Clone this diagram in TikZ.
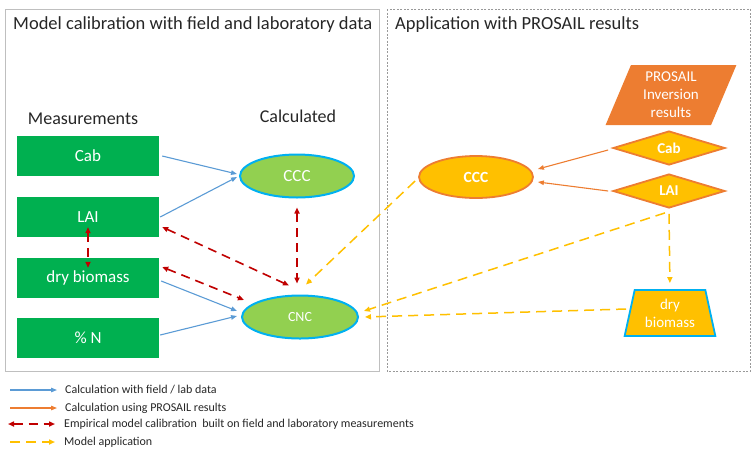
\documentclass[tikz,border=0pt]{standalone}
\usepackage{fontspec}
\setmainfont{Carlito}
\usetikzlibrary{shapes.geometric,arrows.meta}
\definecolor{measgreen}{HTML}{00B050}
\definecolor{calcgreen}{HTML}{92D050}
\definecolor{skyblue}{HTML}{00B0F0}
\definecolor{arrblue}{HTML}{5B9BD5}
\definecolor{orng}{HTML}{ED7D31}
\definecolor{gold}{HTML}{FFC000}
\definecolor{dred}{HTML}{C00000}
\definecolor{frame}{HTML}{BFBFBF}
\definecolor{txt}{HTML}{262626}
\tikzset{
  meas/.style={rectangle, fill=measgreen, text=white, minimum width=142pt, minimum height=40pt, inner sep=0pt, font=\fontsize{17}{20}\selectfont},
  calc/.style={ellipse, fill=calcgreen, draw=skyblue, line width=2pt, text=white, minimum width=114pt, minimum height=43pt, inner sep=0pt},
  appell/.style={ellipse, fill=gold, draw=orng, line width=1.8pt, text=white, minimum width=114pt, minimum height=42pt, inner sep=0pt, font=\bfseries\fontsize{15.5}{18}\selectfont},
  appdia/.style={diamond, aspect=3.3, fill=gold, draw=orng, line width=1.8pt, text=white, minimum width=112pt, minimum height=34pt, inner sep=0pt, font=\bfseries\fontsize{15}{18}\selectfont},
  heading/.style={text=txt, inner sep=0pt, font=\fontsize{18}{22}\selectfont},
  title/.style={text=txt, inner sep=0pt, anchor=west, font=\fontsize{18.5}{22}\selectfont},
  legtxt/.style={text=txt, inner sep=0pt, anchor=west, font=\fontsize{12}{14}\selectfont},
  bluearr/.style={draw=arrblue, line width=1.1pt, -{Triangle[length=6pt,width=4.5pt]}},
  orarr/.style={draw=orng, line width=1.1pt, -{Triangle[length=6pt,width=4.5pt]}},
  redarr/.style={draw=dred, line width=1.6pt, dash pattern=on 9pt off 6pt, {Triangle[length=6pt,width=5pt]}-{Triangle[length=6pt,width=5pt]}},
  goldarr/.style={draw=gold, line width=1.5pt, dash pattern=on 10pt off 6pt, -{Triangle[length=6pt,width=5pt]}},
}
\begin{document}
\begin{tikzpicture}[x=1pt,y=-1pt]
\useasboundingbox (0,0) rectangle (752,448);
% frames
\draw[frame, line width=1pt] (5,9) rectangle (379,371);
\draw[frame!80!black, line width=0.8pt, dash pattern=on 2pt off 1.5pt] (387,9) rectangle (750,371);
\node[title] (t1) at (13,25) {Model calibration with field and laboratory data};
\node[title] (t2) at (395,25) {Application with PROSAIL results};
\node[heading] (hm) at (83,119) {Measurements};
\node[heading] (hc) at (298,116) {Calculated};
% measurement boxes
\node[meas] (cab) at (88,156) {Cab};
\node[meas] (lai) at (88,217) {LAI};
\node[meas] (dry) at (88,278) {dry biomass};
\node[meas] (pn) at (88,338) {\% N};
% calculated
\node[calc, font=\fontsize{17}{20}\selectfont] (ccc) at (297,176) {CCC};
\node[calc, minimum width=116pt, font=\fontsize{14}{17}\selectfont] (cnc) at (300,317) {CNC};
% right side
\node[appell] (rccc) at (476,177) {CCC};
\node[appdia] (rcab) at (669,148) {Cab};
\node[appdia] (rlai) at (669,191) {LAI};
\node[trapezium, trapezium left angle=69, trapezium right angle=111, trapezium stretches=true,
  minimum width=131pt, minimum height=60pt, inner sep=0pt, fill=orng, text=white, align=center,
  font=\fontsize{15}{18}\selectfont] (pros) at (671,95) {PROSAIL\\Inversion\\results};
\node[trapezium, trapezium angle=76, trapezium stretches=true, minimum width=91pt, minimum height=46pt,
  inner sep=0pt, fill=gold, draw=skyblue, line width=1.8pt, text=white, align=center,
  font=\fontsize{15}{18}\selectfont] (rdry) at (670,313) {dry\\biomass};
% blue calculation arrows
\draw[bluearr] ([xshift=3pt]cab.east) -- ([shift={(-2pt,2pt)}]ccc.west);
\draw[bluearr] ([xshift=1pt]lai.east) -- ([shift={(-2pt,-1pt)}]ccc.west);
\draw[bluearr] ([shift={(2pt,-3pt)}]dry.east) -- ([shift={(-4pt,6pt)}]cnc.west);
\draw[bluearr] ([shift={(1pt,3pt)}]pn.east) -- ([shift={(-4pt,1pt)}]cnc.west);
% red calibration arrows
\draw[redarr] ([yshift=10pt]lai.south) -- ([yshift=-10pt]dry.north);
\draw[redarr] ([shift={(3pt,-10pt)}]lai.east) -- ([shift={(-11pt,9pt)}]cnc.north);
\draw[redarr] ([shift={(3pt,11pt)}]dry.east) -- ([shift={(3pt,17pt)}]cnc.west);
\draw[redarr] ([yshift=-9pt]ccc.south) -- ([shift={(-3pt,11pt)}]cnc.north);
% orange calculation arrows
\draw[orarr] ([shift={(-4pt,-2pt)}]rcab.west) -- ([shift={(4pt,8pt)}]rccc.east);
\draw[orarr] ([xshift=-4pt]rlai.west) -- ([shift={(4pt,-5pt)}]rccc.east);
% gold model application arrows
\draw[goldarr] ([shift={(-3pt,-4pt)}]rccc.west) -- ([shift={(6pt,10pt)}]cnc.north);
\draw[goldarr] ([shift={(-4pt,-4pt)}]rlai.south) -- ([shift={(5pt,6pt)}]cnc.east);
\draw[goldarr] ([shift={(-44pt,4pt)}]rdry.center) -- ([xshift=6pt]cnc.east);
\draw[goldarr, shorten >=6pt] ([yshift=-5pt]rlai.south) -- (rdry.north);
% legend
\coordinate (l1a) at (10,390); \coordinate (l1b) at (57,390);
\coordinate (l2a) at (10,408); \coordinate (l2b) at (57,408);
\coordinate (l3a) at (8,424);  \coordinate (l3b) at (55,424);
\coordinate (l4a) at (10,442); \coordinate (l4b) at (55,442);
\draw[bluearr] (l1a) -- (l1b);
\draw[orarr] (l2a) -- (l2b);
\draw[redarr] (l3a) -- (l3b);
\draw[goldarr] (l4a) -- (l4b);
\node[legtxt] (g1) at (65,390) {Calculation with field / lab data};
\node[legtxt] (g2) at (65,408) {Calculation using PROSAIL results};
\node[legtxt] (g3) at (64,424) {Empirical model calibration\ \ built on field and laboratory measurements};
\node[legtxt] (g4) at (64,442) {Model application};
\end{tikzpicture}
\end{document}
